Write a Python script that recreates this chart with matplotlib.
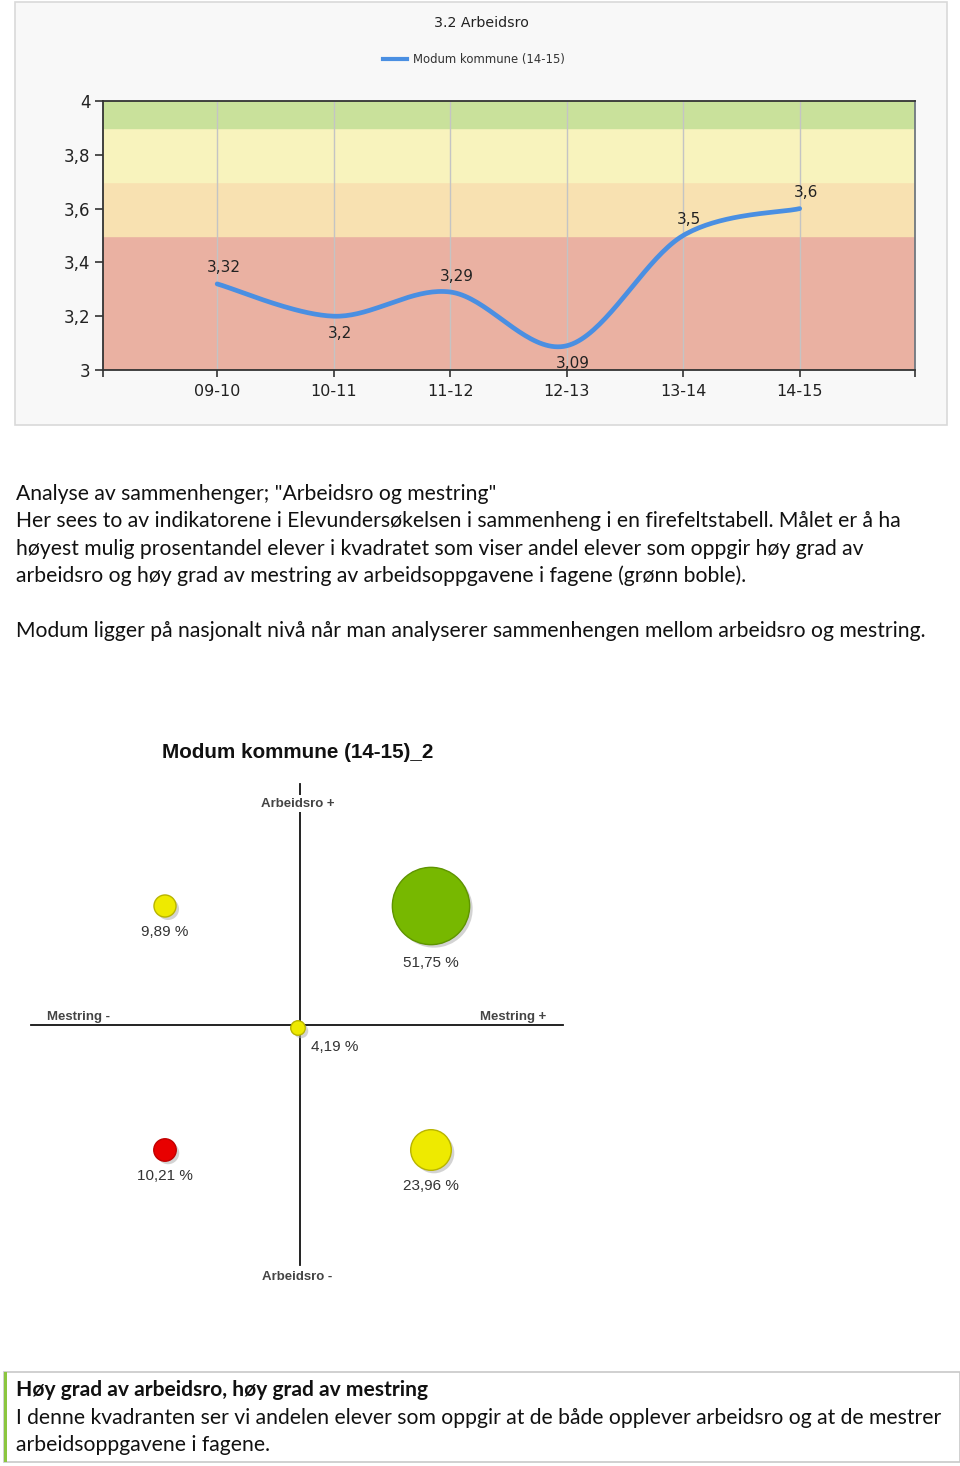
import numpy as np
import matplotlib
matplotlib.use("Agg")
import matplotlib.pyplot as plt
from matplotlib.patches import Rectangle
from matplotlib.transforms import offset_copy

# --- Data: line chart ---
years = ['09-10', '10-11', '11-12', '12-13', '13-14', '14-15']
arbeidsro = [3.32, 3.20, 3.29, 3.09, 3.50, 3.60]
series_name = 'Modum kommune (14-15)'

# --- Data: quadrant bubble chart ---
quad_x = [-1, 1, 0, -1, 1]      # Mestring - / +
quad_y = [1, 1, 0, -1, -1]      # Arbeidsro + / -
quad_pct = [9.89, 51.75, 4.19, 10.21, 23.96]
quad_colors = ['#eeea00', '#77b800', '#eeea00', '#e80000', '#eeea00']
quad_edges = ['#b8b400', '#5f9400', '#b8b400', '#c00000', '#b8b400']

W, H = 960, 1466
fig = plt.figure(figsize=(W / 100, H / 100), dpi=100)
fig.patch.set_facecolor('white')


def px_axes(x0, y0, x1, y1):
    return fig.add_axes([x0 / W, 1 - y1 / H, (x1 - x0) / W, (y1 - y0) / H])


def ftext(x, y, s, **kw):
    return fig.text(x / W, 1 - y / H, s, **kw)


def catmull_rom(xs, ys, n=40):
    p = np.column_stack([xs, ys]).astype(float)
    p = np.vstack([p[0], p, p[-1]])
    out = []
    for i in range(1, len(p) - 2):
        p0, p1, p2, p3 = p[i - 1], p[i], p[i + 1], p[i + 2]
        m1 = 0.5 * (p2 - p0)
        m2 = 0.5 * (p3 - p1)
        t = np.linspace(0, 1, n)[:, None]
        h00 = 2 * t**3 - 3 * t**2 + 1
        h10 = t**3 - 2 * t**2 + t
        h01 = -2 * t**3 + 3 * t**2
        h11 = t**3 - t**2
        out.append(h00 * p1 + h10 * m1 + h01 * p2 + h11 * m2)
    seg = np.vstack(out)
    return seg[:, 0], seg[:, 1]


def comma(v):
    return f'{v:g}'.replace('.', ',')


# ---------------- top panel ----------------
fig.patches.append(Rectangle((15 / W, 1 - 425 / H), 932 / W, 423 / H,
                             transform=fig.transFigure, facecolor='#f8f8f8',
                             edgecolor='#d9d9d9', linewidth=1.2, zorder=-1))

ftext(481, 23, '3.2 Arbeidsro', ha='center', va='center', fontsize=10.2, color='#222222')
fig.lines.append(plt.Line2D([383 / W, 407 / W], [1 - 59 / H, 1 - 59 / H],
                            transform=fig.transFigure, color='#4a8fe2', linewidth=3))
ftext(413, 59, series_name, ha='left', va='center', fontsize=8.4, color='#333333')

ax = px_axes(103, 101, 915, 370)
x = np.arange(len(years))
ax.set_xlim(-0.98, 5.99)
ax.set_ylim(3, 4)
ax.axhspan(3.0, 3.5, color='#eab1a2', zorder=0)
ax.axhspan(3.5, 3.7, color='#f8e1b1', zorder=0)
ax.axhspan(3.7, 3.9, color='#f8f3bd', zorder=0)
ax.axhspan(3.9, 4.0, color='#c9e19b', zorder=0)
for xi in x:
    ax.axvline(xi, color='#c4c4c4', linewidth=1, zorder=1)

sx, sy = catmull_rom(x, arbeidsro)
ax.plot(sx, sy, color='#4a8fe2', linewidth=3.4, solid_capstyle='round', zorder=3)

below = [False, True, False, True, False, False]
for xi, v, b in zip(x, arbeidsro, below):
    ax.annotate(comma(v), (xi, v), xytext=(4.5, -12.5 if b else 11.5), textcoords='offset points',
                ha='center', va='center', fontsize=11, color='#222222', zorder=4,
                annotation_clip=False)

ax.set_xticks(x)
ax.set_xticklabels(years, fontsize=11.5, color='#222222')
ax.set_xticks([-0.98, 5.99], minor=True)
ax.set_yticks([3, 3.2, 3.4, 3.6, 3.8, 4])
ax.set_yticklabels([comma(t) for t in [3, 3.2, 3.4, 3.6, 3.8, 4]], fontsize=12, color='#222222')
ax.tick_params(axis='x', which='both', length=5, width=1.2, color='#333333', pad=5)
ax.tick_params(axis='y', length=6, width=1.2, color='#333333', pad=3)
for s in ['left', 'bottom', 'top']:
    ax.spines[s].set_color('#333333')
    ax.spines[s].set_linewidth(1.3)
ax.spines['right'].set_color('#707880')
ax.spines['right'].set_linewidth(1.3)

# ---------------- paragraph text ----------------
para = [
    (494, 'Analyse av sammenhenger; "Arbeidsro og mestring"'),
    (521, 'Her sees to av indikatorene i Elevundersøkelsen i sammenheng i en firefeltstabell. Målet er å ha'),
    (549, 'høyest mulig prosentandel elever i kvadratet som viser andel elever som oppgir høy grad av'),
    (576, 'arbeidsro og høy grad av mestring av arbeidsoppgavene i fagene (grønn boble).'),
    (631, 'Modum ligger på nasjonalt nivå når man analyserer sammenhengen mellom arbeidsro og mestring.'),
]
for yy, s in para:
    ftext(16, yy, s, ha='left', va='center', fontsize=15.2, family='Lato', color='#111111')

# ---------------- bubble chart ----------------
ftext(298, 753, 'Modum kommune (14-15)_2', ha='center', va='center', fontsize=14.9,
      fontweight='bold', family='Liberation Sans', color='#111111')

bx = px_axes(32, 784, 564, 1272)
bx.set_xlim(-2, 2)
bx.set_ylim(-2, 2)
bx.axis('off')
bx.plot([-2.01, 1.99], [0.025, 0.025], color='#111111', linewidth=1.3, zorder=1, clip_on=False)
bx.plot([0.015, 0.015], [-1.94, 2.0], color='#111111', linewidth=1.3, zorder=1, clip_on=False)

lab_kw = dict(fontsize=9.5, fontweight='bold', color='#444444', family='Liberation Sans')
bx.text(0.0, 1.84, 'Arbeidsro +', ha='center', va='center',
        bbox=dict(facecolor='white', edgecolor='none', pad=1.5), **lab_kw)
bx.text(-0.01, -2.04, 'Arbeidsro -', ha='center', va='center', clip_on=False, **lab_kw)
bx.text(-1.65, 0.04, 'Mestring -', ha='center', va='bottom', **lab_kw)
bx.text(1.62, 0.04, 'Mestring +', ha='center', va='bottom', **lab_kw)

radius_px = [4.5 + 0.66 * p for p in quad_pct]
sizes = [(2 * r / 1.389) ** 2 for r in radius_px]
shadow = offset_copy(bx.transData, fig=fig, x=3, y=-3, units='dots')
bx.scatter(quad_x, quad_y, s=sizes, color='#b0b0b0', alpha=0.55, linewidths=0,
           transform=shadow, zorder=2)
bx.scatter(quad_x, quad_y, s=sizes, c=quad_colors, edgecolors=quad_edges,
           linewidths=1, zorder=3)

for qx, qy, p, r in zip(quad_x, quad_y, quad_pct, radius_px):
    txt = f'{p:.2f}'.replace('.', ',') + ' %'
    if qx == 0 and qy == 0:
        off = (37 / 1.389, -19 / 1.389)
    else:
        off = (0, -(1.1 * r + 14) / 1.389)
    bx.annotate(txt, (qx, qy), xytext=off, textcoords='offset points', ha='center',
                va='center', fontsize=11, color='#333333', family='Liberation Sans', zorder=4)

# ---------------- bottom box ----------------
fig.patches.append(Rectangle((4 / W, 1 - 1462 / H), 956 / W, 90 / H,
                             transform=fig.transFigure, facecolor='white',
                             edgecolor='#c8c8c8', linewidth=1.2, zorder=-1))
fig.patches.append(Rectangle((4 / W, 1 - 1462 / H), 3 / W, 90 / H,
                             transform=fig.transFigure, facecolor='#8cc63f',
                             edgecolor='none', zorder=-1))
ftext(16, 1390, 'Høy grad av arbeidsro, høy grad av mestring', ha='left', va='center',
      fontsize=15.1, fontweight='bold', family='Lato', color='#111111')
ftext(16, 1418, 'I denne kvadranten ser vi andelen elever som oppgir at de både opplever arbeidsro og at de mestrer',
      ha='left', va='center', fontsize=15.2, family='Lato', color='#111111')
ftext(16, 1445, 'arbeidsoppgavene i fagene.', ha='left', va='center', fontsize=15.2,
      family='Lato', color='#111111')

fig.savefig('out.png', dpi=100)
